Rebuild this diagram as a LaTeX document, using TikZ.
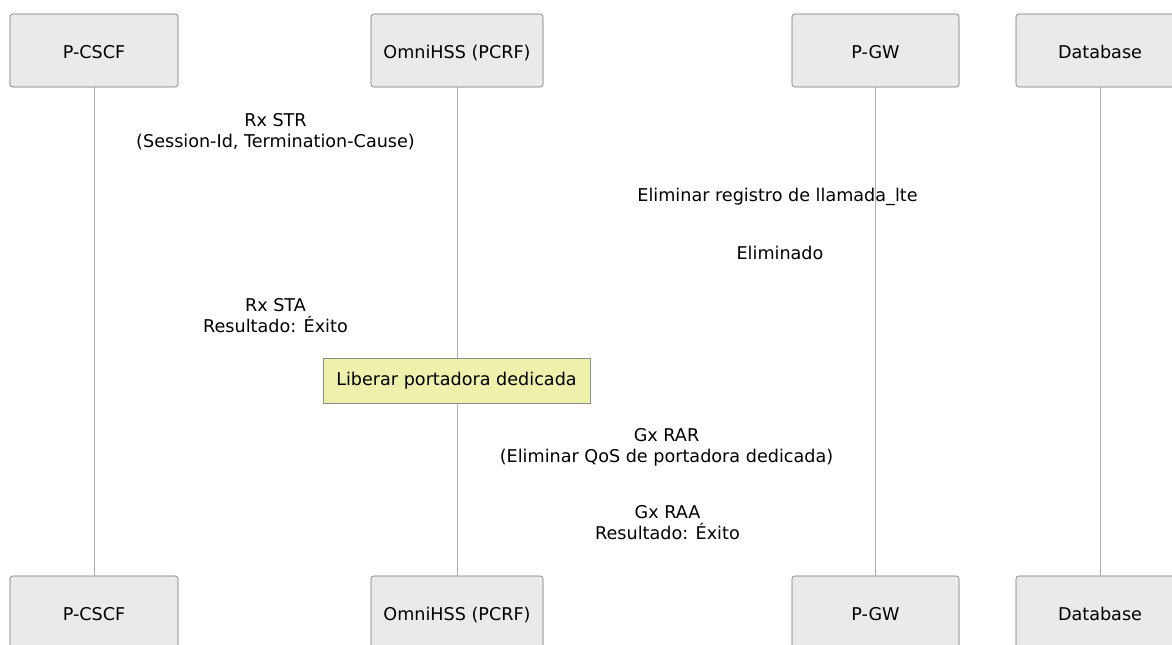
\documentclass[tikz,border=0pt]{standalone}
\usepackage{fontspec}
\setmainfont{DejaVu Sans}

\definecolor{cajagris}{RGB}{234,234,234}
\definecolor{bordegris}{RGB}{110,110,110}
\definecolor{lineagris}{RGB}{175,175,175}
\definecolor{notaamarilla}{RGB}{237,241,171}

\tikzset{
  actor/.style={draw=bordegris, fill=cajagris, rounded corners=2pt, minimum height=54.75pt, inner sep=0pt, text height=2.3ex, text depth=0pt},
  vida/.style={draw=lineagris, line width=0.6pt},
  mensaje/.style={align=center, inner sep=0pt},
  nota/.style={draw=black!45, fill=notaamarilla, minimum width=200.25pt, minimum height=33.75pt, inner sep=0pt}
}

\begin{document}
\begin{tikzpicture}[x=0.75pt, y=-0.75pt, font=\fontsize{13.2}{15.8}\selectfont]
\useasboundingbox (0,0) rectangle (1172,644);
\clip (0,0) rectangle (1172,644);

% Participantes y lineas de vida
	\foreach \nombre/\x/\w/\texto in {pcscf/94/168/P-CSCF, pcrf/457/172/OmniHSS (PCRF), pgw/875.5/167/P-GW, db/1100/168/Database}
	{
		\node[actor, minimum width=\w*0.75pt] (\nombre-arr) at (\x,50.5) {\texto};
		\node[actor, minimum width=\w*0.75pt] (\nombre-ab) at (\x,612.5) {\texto};
		\draw[vida] (\nombre-arr) -- (\nombre-ab);
	}

% Mensajes
\node[mensaje] (str) at (275.5,132) {Rx STR\\(Session-Id, Termination-Cause)};
\node[mensaje] (borrar) at (777.5,197) {Eliminar registro de llamada\_lte};
\node[mensaje] (borrado) at (780,253) {Eliminado};
\node[mensaje] (sta) at (275.5,316) {Rx STA\\Resultado: Éxito};

% Nota
\node[nota] (liberar) at (456.5,380.5) {Liberar portadora dedicada};

\node[mensaje] (rar) at (666.5,447) {Gx RAR\\(Eliminar QoS de portadora dedicada)};
\node[mensaje] (raa) at (667.5,522.5) {Gx RAA\\Resultado: Éxito};
\end{tikzpicture}
\end{document}
